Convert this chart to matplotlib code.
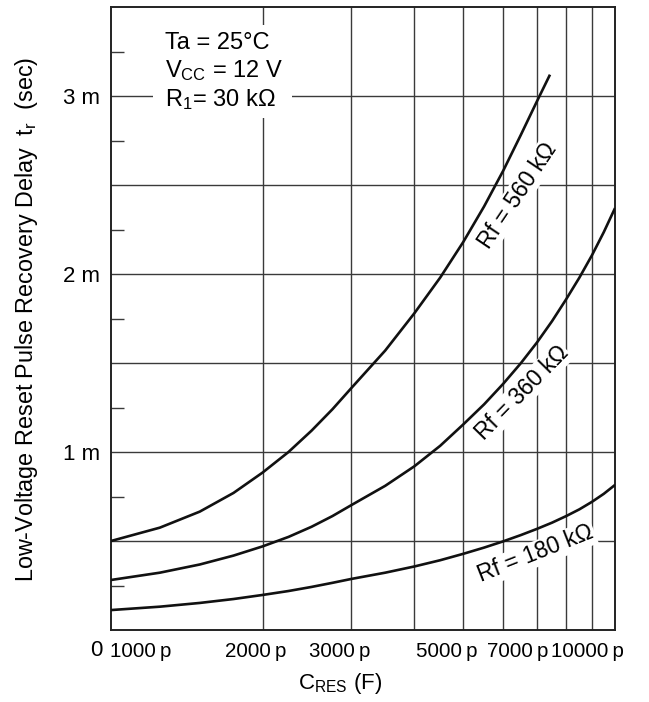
import numpy as np
import matplotlib
matplotlib.use('Agg')
import matplotlib.pyplot as plt
from matplotlib.patches import Rectangle
from matplotlib.ticker import FixedLocator, NullFormatter

plt.rcParams['font.family'] = ['Liberation Sans', 'DejaVu Sans']
plt.rcParams['mathtext.default'] = 'regular'

# ---- data (C in pF, t in ms) ----
c_180 = [1000, 1250, 1500, 1750, 2000, 2250, 2500, 2750, 3000, 3500, 4000, 4500, 5000,
         5500, 6000, 6500, 7000, 7500, 8000, 8500, 9000, 9500, 10000]
t_180 = [0.112, 0.131, 0.152, 0.174, 0.197, 0.219, 0.242, 0.265, 0.287, 0.322, 0.357, 0.392, 0.428,
         0.463, 0.498, 0.533, 0.568, 0.603, 0.640, 0.678, 0.720, 0.765, 0.815]

c_360 = [1000, 1250, 1500, 1750, 2000, 2250, 2500, 2750, 3000, 3500, 4000, 4500, 5000,
         5500, 6000, 6500, 7000, 7500, 8000, 8500, 9000, 9500, 10000]
t_360 = [0.281, 0.322, 0.368, 0.418, 0.470, 0.523, 0.580, 0.640, 0.702, 0.810, 0.920, 1.035, 1.155,
         1.268, 1.383, 1.498, 1.615, 1.735, 1.858, 1.980, 2.105, 2.235, 2.370]

c_560 = [1000, 1250, 1500, 1750, 2000, 2250, 2500, 2750, 3000, 3500, 4000, 4500, 5000,
         5500, 6000, 6500, 7000, 7430]
t_560 = [0.500, 0.575, 0.665, 0.770, 0.885, 1.000, 1.120, 1.240, 1.360, 1.570, 1.780, 1.980, 2.180,
         2.380, 2.580, 2.780, 2.970, 3.120]

series_labels = ['Rf = 180 k\u03a9', 'Rf = 360 k\u03a9', 'Rf = 560 k\u03a9']

x_ticks = [1000, 2000, 3000, 5000, 7000, 10000]
x_tick_labels = ['1000\u2009p', '2000\u2009p', '3000\u2009p', '5000\u2009p', '7000\u2009p', '10000\u2009p']
x_grid = [2000, 3000, 4000, 5000, 6000, 7000, 8000, 9000]
y_ticks = [1, 2, 3]
y_tick_labels = ['1 m', '2 m', '3 m']
y_grid = [0.5, 1.0, 1.5, 2.0, 2.5, 3.0]
y_minor = [0.25, 0.75, 1.25, 1.75, 2.25, 2.75, 3.25]

W, H = 649, 702
fig = plt.figure(figsize=(W / 100, H / 100), dpi=100)
ax = fig.add_axes([111 / W, 1 - 630 / H, (615 - 111) / W, (630 - 7) / H])
ax.set_xscale('log')
ax.set_xlim(1000, 10000)
ax.set_ylim(0, 3.5)

gc = '#3a3a3a'
for xv in x_grid:
    ax.axvline(xv, color=gc, lw=1.0, zorder=1)
for yv in y_grid:
    ax.axhline(yv, color=gc, lw=1.0, zorder=1)

for c, t in [(c_180, t_180), (c_360, t_360), (c_560, t_560)]:
    ax.plot(c, t, color='#111111', lw=1.9, zorder=3, solid_capstyle='butt',
            solid_joinstyle='round')

for sp in ax.spines.values():
    sp.set_color('#222222')
    sp.set_linewidth(1.4)

# ticks
ax.xaxis.set_major_locator(FixedLocator(x_ticks))
ax.xaxis.set_minor_locator(FixedLocator([]))
ax.xaxis.set_major_formatter(NullFormatter())
ax.xaxis.set_minor_formatter(NullFormatter())
ax.tick_params(axis='x', which='both', length=0)
ax.set_yticks(y_ticks)
ax.set_yticklabels(y_tick_labels, fontsize=16)
ax.tick_params(axis='y', which='major', length=0, pad=8)
ax.yaxis.set_minor_locator(FixedLocator(y_minor))
ax.tick_params(axis='y', which='minor', direction='in', length=9.5, width=1.0, color=gc)

# x tick labels (manual offsets like the reference)
x_offsets = [30, -7, -12, -17, -19, -28]
for xv, lab, off in zip(x_ticks, x_tick_labels, x_offsets):
    ax.annotate(lab, xy=(xv, 0), xycoords=('data', 'axes fraction'),
                xytext=(off * 0.72, -15.5), textcoords='offset points',
                ha='center', va='center', fontsize=14.8)
fig.text(96 / W, 1 - 651 / H, '0', ha='center', va='center', fontsize=16)

# axis labels
fig.text(340 / W, 1 - 684 / H, 'C$_{RES}$ (F)', ha='center', va='center', fontsize=16)
fig.text(27 / W, 1 - 319 / H, 'Low-Voltage Reset Pulse Recovery Delay  t$_r$  (sec)',
         rotation=90, ha='center', va='center', fontsize=16.8)

# condition block
ax.add_patch(Rectangle((153 / W, 1 - 118 / H), (292 - 153) / W, (118 - 25) / H,
                       transform=fig.transFigure, facecolor='white', edgecolor='none', zorder=2))
cond = ['Ta = 25\u00b0C', 'V$_{CC}$ = 12 V', 'R$_1$= 30 k\u03a9']
cond_y = [43, 71, 100]
for s, yy in zip(cond, cond_y):
    fig.text(165 / W, 1 - yy / H, s, ha='left', va='center', fontsize=17, zorder=5)

# curve labels
lab_pos = [(6970, 0.427, 21.5), (6530, 1.33, 45.5), (6400, 2.44, 56)]
for s, (xx, yy, rot) in zip(series_labels, lab_pos):
    ax.text(xx, yy, s, rotation=rot, rotation_mode='anchor', ha='center', va='center',
            fontsize=16.5, zorder=2.5,
            bbox=dict(facecolor='white', edgecolor='none', pad=1.0))

fig.savefig('out.png', dpi=100)
